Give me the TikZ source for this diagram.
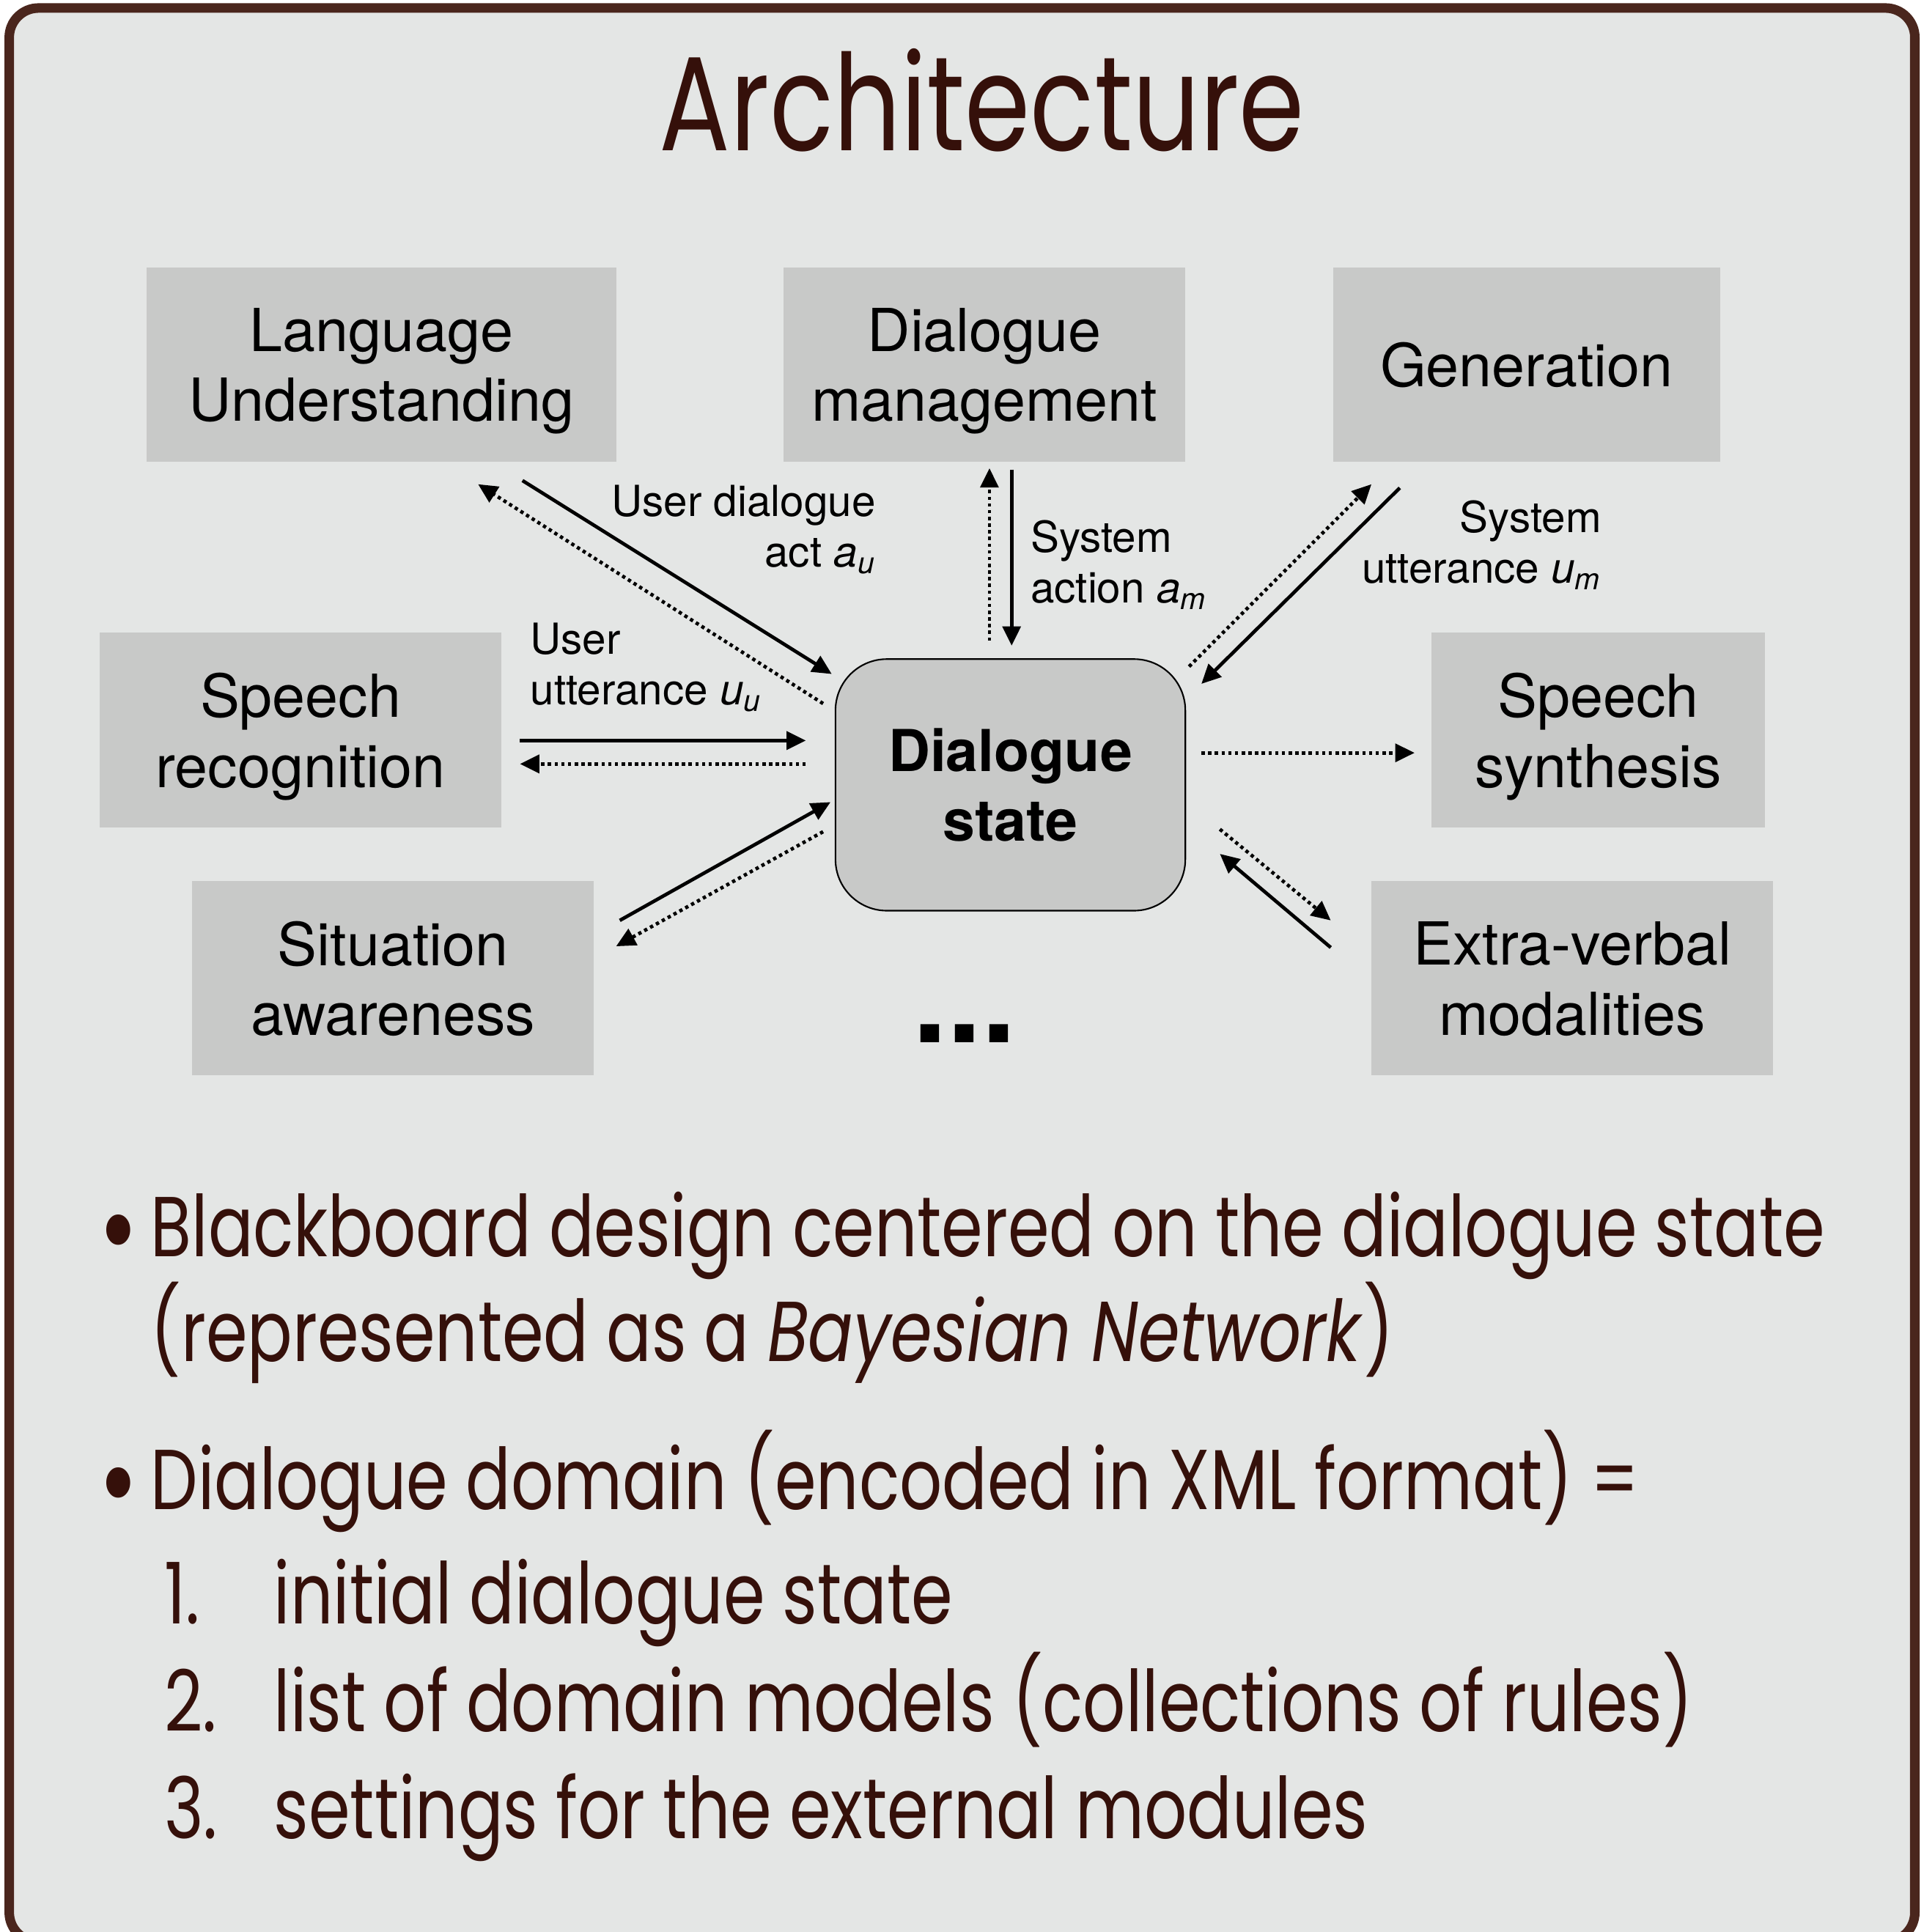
\documentclass[tikz,border=0pt]{standalone}
\usepackage{fontspec}
\setmainfont{TeX Gyre Heros}
\newfontfamily\futura[FakeStretch=0.785]{Poppins}
\usetikzlibrary{arrows.meta}

\definecolor{framebrown}{HTML}{4A261D}
\definecolor{panelgrey}{HTML}{E4E6E5}
\definecolor{boxgrey}{HTML}{C8C9C8}
\definecolor{textbrown}{HTML}{35100A}

\tikzset{
  module/.style={fill=boxgrey, align=center, inner sep=0pt, text depth=0pt,
    minimum height=2.65cm, font=\fontsize{23}{27.2}\selectfont},
  lbl/.style={inner sep=0pt, font=\fontsize{16.6}{19.6}\selectfont},
  flow/.style={line width=1.35pt, -{Triangle[length=7.5pt,width=7pt]}},
  back/.style={flow, dash pattern=on 1.3pt off 1.3pt},
  bullettext/.style={anchor=base west, inner sep=0pt, text=textbrown,
    font=\futura\fontsize{33}{40}\selectfont},
  bulletmark/.style={inner sep=0pt, text=textbrown,
    font=\futura\fontsize{48}{48}\selectfont},
}

\begin{document}
\begin{tikzpicture}[x=0.0168cm, y=-0.0168cm]
    \useasboundingbox (0,0) rectangle (1561,1568);
    % Marco
    \draw[framebrown, line width=3.7pt, fill=panelgrey, rounded corners=0.4cm]
        (7.5,6.5) rectangle (1554,1576);
    % Titulo
    \node (title) [anchor=base, inner sep=0pt, text=textbrown,
        font=\futura\fontsize{52}{60}\selectfont] at (797,122) {Architecture};

    % Modulos
    \node (lu) [module, minimum width=6.40cm] at (309.5,296) {Language\\Understanding};
    \node (dm) [module, minimum width=5.48cm] at (799,296) {Dialogue\\management};
    \node (gen) [module, minimum width=5.28cm] at (1239,296) {Generation};
    \node (sr) [module, minimum width=5.48cm] at (244,592.5) {Speech\\recognition};
    \node (sa) [module, minimum width=5.48cm] at (319,794) {Situation\\awareness};
    \node (ss) [module, minimum width=4.54cm] at (1297,592.5) {Speech\\synthesis};
    \node (ev) [module, minimum width=5.48cm] at (1276,794) {Extra-verbal\\modalities};
    % Estado central
    \node (ds) [draw, line width=0.6pt, fill=boxgrey, rounded corners=0.7cm,
        minimum width=4.77cm, minimum height=3.43cm, align=center,
        font=\bfseries\fontsize{22.4}{27.2}\selectfont] at (820,637) {Dialogue\\state};
    \node (more) [inner sep=0pt, font=\bfseries\fontsize{48}{48}\selectfont] at (783,839) {...};

    % Extremos de las flechas
    \coordinate (luA) at (424,390);  \coordinate (luB) at (675,547);
    \coordinate (luC) at (668,571);  \coordinate (luD) at (388,393);
    \coordinate (dmA) at (821,381);  \coordinate (dmB) at (821,524);
    \coordinate (dmC) at (803,520);  \coordinate (dmD) at (803,380);
    \coordinate (genA) at (1136,396); \coordinate (genB) at (975,555);
    \coordinate (genC) at (965,541);  \coordinate (genD) at (1113,393);
    \coordinate (srA) at (422,601);  \coordinate (srB) at (654,601);
    \coordinate (srC) at (654,620);  \coordinate (srD) at (422,620);
    \coordinate (saA) at (503,747);  \coordinate (saB) at (674,651);
    \coordinate (saC) at (668,675);  \coordinate (saD) at (500,768);
    \coordinate (ssA) at (975,611);  \coordinate (ssB) at (1148,611);
    \coordinate (evA) at (1080,769); \coordinate (evB) at (990,693);
    \coordinate (evC) at (990,673);  \coordinate (evD) at (1080,747);

    % Flechas: continua = datos, punteada = respuesta
    \draw[flow] (luA) -- (luB);
    \draw[back] (luC) -- (luD);
    \draw[flow] (dmA) -- (dmB);
    \draw[back] (dmC) -- (dmD);
    \draw[flow] (genA) -- (genB);
    \draw[back] (genC) -- (genD);
    \draw[flow] (srA) -- (srB);
    \draw[back] (srC) -- (srD);
    \draw[flow] (saA) -- (saB);
    \draw[back] (saC) -- (saD);
    \draw[back] (ssA) -- (ssB);
    \draw[flow] (evA) -- (evB);
    \draw[back] (evC) -- (evD);

    % Etiquetas (base = ultima linea)
    \node (luLbl) [lbl, align=right, anchor=base east] at (711,460)
        {User dialogue\\act \textit{a\textsubscript{u}}};
    \node (dmLbl) [lbl, align=left, anchor=base west] at (836,489)
        {System\\action \textit{a\textsubscript{m}}};
    \node (genLbl) [lbl, align=right, anchor=base east] at (1300,473)
        {System\\utterance \textit{u\textsubscript{m}}};
    \node (srLbl) [lbl, align=left, anchor=base west] at (430,572)
        {User\\utterance \textit{u\textsubscript{u}}};

    % Texto de abajo
    \node (b1) [bulletmark] at (96,1009) {•};
    \node (t1) [bullettext] at (122,1020) {Blackboard design centered on the dialogue state};
    \node (t1b) [bullettext] at (122,1105) {(represented as a \textit{Bayesian Network})};
    \node (b2) [bulletmark] at (96,1214) {•};
    \node (t2) [bullettext] at (122,1225) {Dialogue domain (encoded in XML format) =};
    \node (n1) [bullettext] at (133,1318) {1.};
    \node (i1) [bullettext] at (222,1318) {initial dialogue state};
    \node (n2) [bullettext] at (133,1405) {2.};
    \node (i2) [bullettext] at (222,1405) {list of domain models (collections of rules)};
    \node (n3) [bullettext] at (133,1492) {3.};
    \node (i3) [bullettext] at (222,1492) {settings for the external modules};
\end{tikzpicture}
\end{document}
